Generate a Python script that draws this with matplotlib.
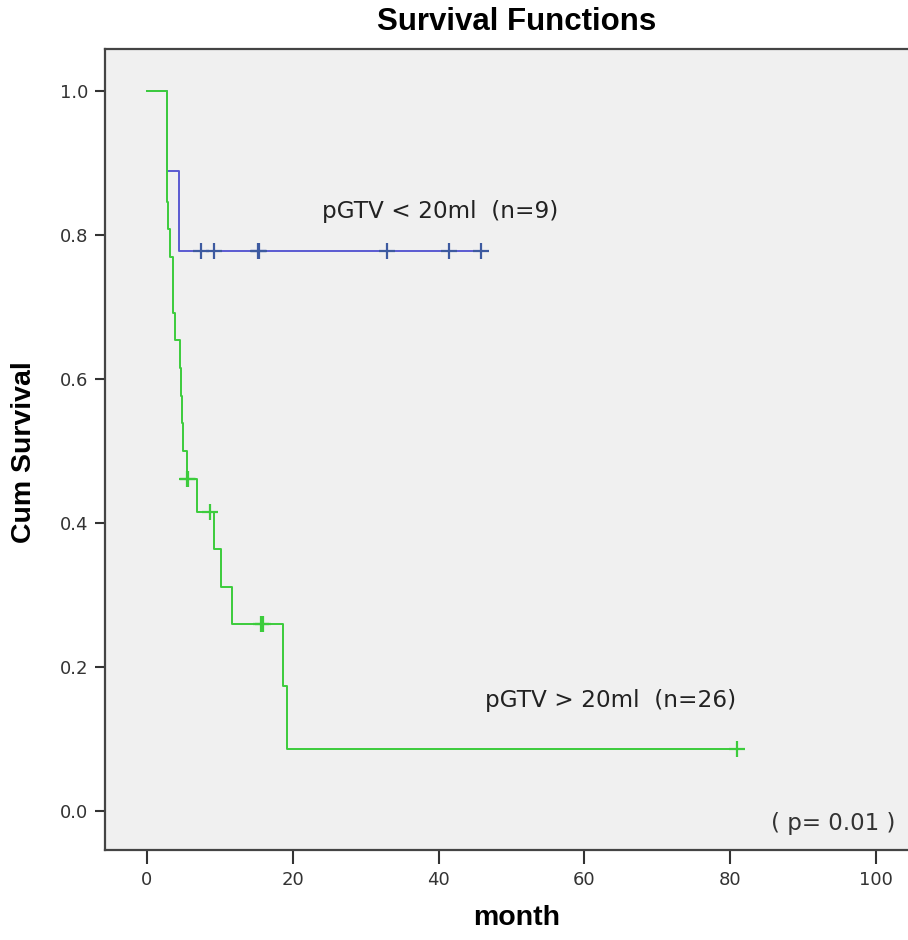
import numpy as np
import matplotlib
matplotlib.use("Agg")
import matplotlib.pyplot as plt

# ---- data (months, event: 1 = death, 0 = censored) ----
blue_times = [2.75, 4.4, 7.4, 9.2, 15.2, 15.35, 32.9, 41.4, 45.8]
blue_events = [1, 1, 0, 0, 0, 0, 0, 0, 0]

green_times = [2.70, 2.72, 2.75, 2.80, 2.90, 3.15, 3.50, 3.55, 3.85, 4.50,
               4.65, 4.85, 4.90, 5.45, 5.55, 5.65, 6.90, 8.60, 9.20, 10.20,
               11.60, 15.70, 15.90, 18.70, 19.25, 81.0]
green_events = [1, 1, 1, 1, 1, 1, 1, 1, 1, 1,
                1, 1, 1, 1, 0, 0, 1, 0, 1, 1,
                1, 0, 0, 1, 1, 0]

labels = ["pGTV < 20ml  (n=9)", "pGTV > 20ml  (n=26)"]
p_text = "( p= 0.01 )"
x_ticks = [0, 20, 40, 60, 80, 100]
y_ticks = [0.0, 0.2, 0.4, 0.6, 0.8, 1.0]


def km(times, events):
    order = np.argsort(times, kind="stable")
    t = np.asarray(times, float)[order]
    e = np.asarray(events, int)[order]
    n = len(t)
    s = 1.0
    xs, ys = [0.0], [1.0]
    cx, cy = [], []
    at_risk = n
    for ti, ei in zip(t, e):
        if ei == 1:
            s = s * (at_risk - 1) / at_risk
            xs.append(ti)
            ys.append(s)
        else:
            cx.append(ti)
            cy.append(s)
        at_risk -= 1
    xs.append(t[-1])
    ys.append(s)
    return xs, ys, cx, cy


fig = plt.figure(figsize=(9.08, 9.4), dpi=100)
ax = fig.add_axes([105 / 908, 90 / 940, 803 / 908, 801 / 940])
ax.set_facecolor("#f0f0f0")

x0_px, x100_px = 147, 876
ppu = (x100_px - x0_px) / 100.0
ax.set_xlim((105 - x0_px) / ppu, (908 - x0_px) / ppu)
ax.set_ylim((811 - 850) / 720.0, (811 - 49) / 720.0)

blue_c = "#5a5ad2"
blue_cm = "#3d5aa0"
green_c = "#3ccc3c"

for (tt, ee, lc, mc) in [(blue_times, blue_events, blue_c, blue_cm),
                         (green_times, green_events, green_c, green_c)]:
    xs, ys, cx, cy = km(tt, ee)
    ax.plot(xs, ys, drawstyle="steps-post", color=lc, lw=1.4)
    ax.plot(cx, cy, ls="none", marker="+", ms=11, mew=1.6, color=mc)

af = ["DejaVu Sans"]
tf = ["Liberation Sans", "DejaVu Sans"]
ax.text(24.0, 0.832, labels[0], fontsize=16.7, family=af, color="#222222",
        va="center", ha="left")
ax.text(46.4, 0.154, labels[1], fontsize=16.7, family=af, color="#222222",
        va="center", ha="left")
ax.text(102.6, -0.017, p_text, fontsize=16.5, family=af, color="#333333",
        va="center", ha="right")

ax.set_xticks(x_ticks)
ax.set_xticklabels([str(v) for v in x_ticks])
ax.set_yticks(y_ticks)
ax.set_yticklabels([f"{v:.1f}" for v in y_ticks])
ax.tick_params(axis="both", direction="out", width=1.5,
               color="#333333", labelsize=13, labelcolor="#333333")
ax.tick_params(axis="x", length=10, pad=5)
ax.tick_params(axis="y", length=7, pad=5)
for lab in ax.get_xticklabels() + ax.get_yticklabels():
    lab.set_family(af)

for side in ["left", "bottom", "top"]:
    ax.spines[side].set_color("#444444")
    ax.spines[side].set_linewidth(1.6)
ax.spines["right"].set_visible(False)

fig.text(517 / 908, 1 - 22 / 940, "Survival Functions", fontsize=22.5,
         fontweight="bold", family=tf, ha="center", va="center")
fig.text(517 / 908, 1 - 918 / 940, "month", fontsize=20.5,
         fontweight="bold", family=tf, ha="center", va="center")
fig.text(24 / 908, 1 - 452 / 940, "Cum Survival", fontsize=20.5,
         fontweight="bold", family=tf, ha="center", va="center",
         rotation=90)

fig.savefig("out.png", dpi=100, facecolor="white")
